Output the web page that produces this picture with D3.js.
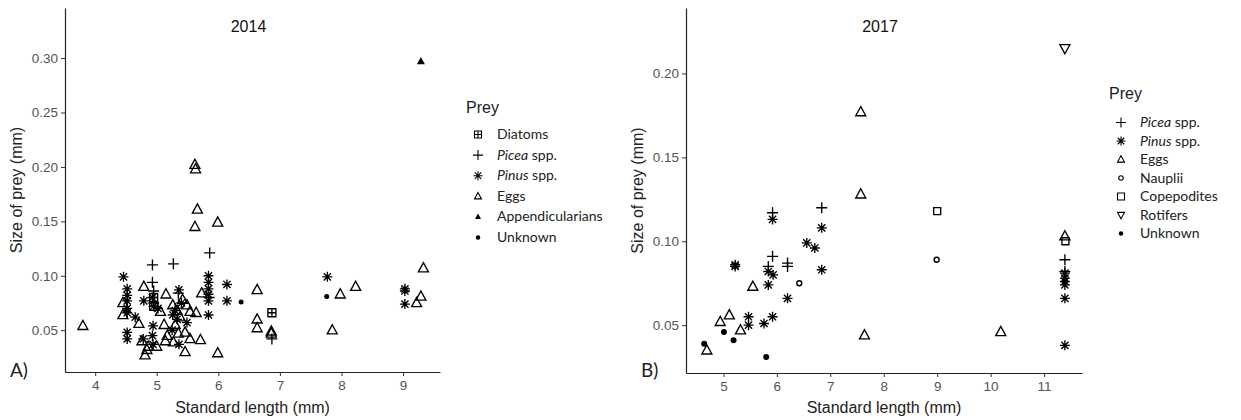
<!DOCTYPE html>
<html><head><meta charset="utf-8">
<script src="https://cdn.jsdelivr.net/npm/d3@7"></script>
<style>
body{margin:0;background:#fff;}
svg{display:block;}
</style></head>
<body>
<svg id="c" width="1241" height="420"></svg>
<script>
// ---------- DATA ----------
// 2014 panel (standard length mm, prey size mm)
const diatoms2014 = [[6.87,0.066],[4.95,0.080],[4.95,0.072]];
const picea2014 = [[4.93,0.110],[5.27,0.111],[5.86,0.121],[4.93,0.094],[4.95,0.086],[5.35,0.084],[5.30,0.070],[4.95,0.075],[6.87,0.042],[5.85,0.080]];
const pinus2014 = [[4.46,0.099],[4.52,0.088],[4.52,0.082],[4.52,0.077],[4.52,0.070],[4.52,0.066],[4.65,0.062],[4.52,0.048],[4.52,0.042],[4.79,0.077],[4.93,0.080],[4.95,0.072],[5.02,0.070],[4.94,0.054],[4.93,0.045],[4.78,0.042],[4.94,0.037],[5.36,0.087],[5.30,0.068],[5.26,0.064],[5.33,0.060],[5.40,0.075],[5.49,0.057],[5.36,0.037],[5.25,0.050],[5.84,0.100],[5.84,0.094],[5.84,0.088],[5.84,0.083],[5.84,0.077],[5.84,0.064],[6.14,0.092],[6.14,0.077],[7.77,0.099],[9.03,0.088],[9.03,0.086],[9.03,0.074]];
const eggs2014 = [[3.80,0.054],[5.62,0.202],[5.63,0.198],[5.66,0.161],[5.62,0.145],[5.99,0.149],[6.63,0.087],[6.63,0.060],[6.63,0.052],[6.86,0.049],[6.86,0.047],[7.85,0.050],[7.98,0.083],[8.23,0.090],[9.33,0.107],[9.29,0.081],[9.22,0.075],[4.79,0.090],[4.45,0.075],[4.45,0.064],[4.71,0.056],[4.76,0.040],[4.86,0.035],[5.00,0.035],[4.81,0.027],[4.84,0.032],[5.06,0.067],[5.15,0.083],[5.12,0.055],[5.17,0.045],[5.14,0.040],[5.27,0.039],[5.33,0.068],[5.30,0.055],[5.35,0.047],[5.49,0.073],[5.54,0.067],[5.64,0.066],[5.46,0.048],[5.54,0.042],[5.71,0.041],[5.46,0.030],[5.99,0.029],[5.73,0.084],[5.42,0.078],[5.26,0.073],[5.38,0.062]];
const appendicularians2014 = [[9.29,0.297]];
const unknown2014 = [[6.37,0.076],[7.76,0.081],[4.52,0.068]];

// 2017 panel
const picea2017 = [[5.92,0.117],[6.84,0.120],[5.92,0.091],[6.20,0.087],[6.20,0.085],[5.84,0.085],[11.39,0.089],[11.39,0.082]];
const pinus2017 = [[5.92,0.113],[5.22,0.086],[5.22,0.085],[6.84,0.108],[6.56,0.099],[6.71,0.096],[6.84,0.083],[5.93,0.080],[5.84,0.082],[5.84,0.074],[6.20,0.066],[5.47,0.055],[5.47,0.050],[5.76,0.051],[5.92,0.055],[11.39,0.081],[11.39,0.078],[11.39,0.076],[11.39,0.074],[11.39,0.066],[11.39,0.038]];
const eggs2017 = [[7.57,0.177],[7.57,0.128],[5.55,0.073],[5.11,0.056],[4.94,0.052],[5.32,0.047],[4.69,0.035],[7.64,0.044],[10.19,0.046],[11.39,0.103]];
const nauplii2017 = [[6.42,0.075],[8.99,0.089]];
const copepodites2017 = [[9.00,0.118],[11.40,0.100]];
const rotifers2017 = [[11.39,0.215]];
const unknown2017 = [[4.64,0.039],[5.01,0.046],[5.19,0.041],[5.80,0.031]];

// ticks
const xTicks2014 = [4,5,6,7,8,9];
const yTicks2014 = [0.05,0.10,0.15,0.20,0.25,0.30];
const xTicks2017 = [5,6,7,8,9,10,11];
const yTicks2017 = [0.05,0.10,0.15,0.20];

// ---------- SYMBOLS ----------
function symPath(type, s){
  const h=s/2;
  switch(type){
    case "triUp": return `M0,${-s*0.55}L${h},${s*0.37}L${-h},${s*0.37}Z`;
    case "triDown": return `M0,${s*0.55}L${h},${-s*0.37}L${-h},${-s*0.37}Z`;
    case "plus": return `M${-h},0H${h}M0,${-h}V${h}`;
    case "star": {const d=h*0.72; return `M${-h},0H${h}M0,${-h}V${h}M${-d},${-d}L${d},${d}M${-d},${d}L${d},${-d}`;}
    case "boxplus": return `M${-h},${-h}H${h}V${h}H${-h}ZM${-h},0H${h}M0,${-h}V${h}`;
    case "square": return `M${-h},${-h}H${h}V${h}H${-h}Z`;
  }
}
function drawSym(g, type, x, y, s, sw){
  if(type==="dot"){
    g.append("circle").attr("cx",x).attr("cy",y).attr("r",s/2).attr("fill","#000");
  } else if(type==="circle"){
    g.append("circle").attr("cx",x).attr("cy",y).attr("r",s/2).attr("fill","none").attr("stroke","#000").attr("stroke-width",sw);
  } else if(type==="triFill"){
    g.append("path").attr("transform",`translate(${x},${y})`).attr("d",symPath("triUp",s)).attr("fill","#000");
  } else {
    g.append("path").attr("transform",`translate(${x},${y})`).attr("d",symPath(type,s))
      .attr("fill","none").attr("stroke","#000").attr("stroke-width",sw).attr("stroke-linejoin","miter");
  }
}

const svg = d3.select("#c");
const tickFont = "Arial, 'Liberation Sans', sans-serif";
const legFont = "Lato, 'Open Sans', sans-serif";

function panel(opt){
  const x = d3.scaleLinear().domain(opt.xd).range([opt.left, opt.right]);
  const y = d3.scaleLinear().domain(opt.yd).range([opt.bottom, opt.top]);
  const g = svg.append("g");
  // axes
  const ax = g.append("g").attr("transform",`translate(0,${opt.bottom})`)
    .call(d3.axisBottom(x).tickValues(opt.xt).tickSize(4).tickSizeOuter(0).tickPadding(4).tickFormat(d3.format("d")));
  const ay = g.append("g").attr("transform",`translate(${opt.left},0)`)
    .call(d3.axisLeft(y).tickValues(opt.yt).tickSize(4).tickSizeOuter(0).tickPadding(3).tickFormat(d3.format(".2f")));
  [ax,ay].forEach(a=>{
    a.select(".domain").attr("stroke","#222").attr("stroke-width",1.2);
    a.selectAll(".tick line").attr("stroke","#333");
    a.selectAll(".tick text").attr("fill","#555").attr("font-size",13.5).attr("font-family",tickFont);
  });
  // titles
  g.append("text").attr("x",(opt.left+opt.right)/2-4).attr("y",32).attr("text-anchor","middle")
    .attr("font-family",tickFont).attr("font-size",16).attr("fill","#111").text(opt.title);
  g.append("text").attr("x",(opt.left+opt.right)/2).attr("y",413).attr("text-anchor","middle")
    .attr("font-family",tickFont).attr("font-size",16).attr("fill","#222").text("Standard length (mm)");
  g.append("text").attr("transform",`translate(${opt.ylabX},${(opt.top+opt.bottom)/2}) rotate(-90)`)
    .attr("text-anchor","middle").attr("font-family",tickFont).attr("font-size",16).attr("fill","#222").text("Size of prey (mm)");
  g.append("text").attr("x",opt.tagX).attr("y",377).attr("font-family",legFont).attr("font-size",19).attr("fill","#222").text(opt.tag);
  // points
  const pg = g.append("g");
  opt.series.forEach(s=>{
    s.data.forEach(d=>drawSym(pg, s.sym, x(d[0]), y(d[1]), s.size, 1.35));
  });
  // legend
  const lg = g.append("g");
  lg.append("text").attr("x",opt.legX).attr("y",opt.legY).attr("font-family",tickFont).attr("font-size",16).attr("fill","#1a1a2a").text("Prey");
  opt.series.forEach((s,i)=>{
    const yy = opt.legY + opt.legFirst + i*opt.legStep;
    drawSym(lg, s.sym, opt.legX+12, yy-4.5, s.legSize, 1.1);
    const t = lg.append("text").attr("x",opt.legX+31).attr("y",yy).attr("font-family",legFont).attr("font-size",14).attr("fill","#222");
    if(s.italic){
      t.append("tspan").attr("font-style","italic").text(s.italic);
      t.append("tspan").text(" "+s.name);
    } else t.text(s.name);
  });
}

panel({
  left:65, right:440, top:8, bottom:372,
  xd:[3.51,9.6], yd:[0.0116,0.346],
  xt:xTicks2014, yt:yTicks2014, title:"2014", tag:"A)", tagX:10, ylabX:22,
  legX:466, legY:113, legFirst:26, legStep:20.6,
  series:[
    {name:"Diatoms", data:diatoms2014, sym:"boxplus", size:8, legSize:7},
    {italic:"Picea", name:"spp.", data:picea2014, sym:"plus", size:11, legSize:10},
    {italic:"Pinus", name:"spp.", data:pinus2014, sym:"star", size:10, legSize:9},
    {name:"Eggs", data:eggs2014, sym:"triUp", size:10, legSize:7},
    {name:"Appendicularians", data:appendicularians2014, sym:"triFill", size:8, legSize:6},
    {name:"Unknown", data:unknown2014, sym:"dot", size:5, legSize:4.5}
  ]
});

panel({
  left:686, right:1082, top:8, bottom:373,
  xd:[4.30,11.71], yd:[0.0215,0.239],
  xt:xTicks2017, yt:yTicks2017, title:"2017", tag:"B)", tagX:641, ylabX:643,
  legX:1109, legY:99, legFirst:28, legStep:18.5,
  series:[
    {italic:"Picea", name:"spp.", data:picea2017, sym:"plus", size:11, legSize:10},
    {italic:"Pinus", name:"spp.", data:pinus2017, sym:"star", size:10, legSize:9},
    {name:"Eggs", data:eggs2017, sym:"triUp", size:10, legSize:7},
    {name:"Nauplii", data:nauplii2017, sym:"circle", size:5, legSize:4.5},
    {name:"Copepodites", data:copepodites2017, sym:"square", size:7, legSize:7},
    {name:"Rotifers", data:rotifers2017, sym:"triDown", size:10, legSize:7},
    {name:"Unknown", data:unknown2017, sym:"dot", size:6, legSize:4.5}
  ]
});
</script>
</body></html>
